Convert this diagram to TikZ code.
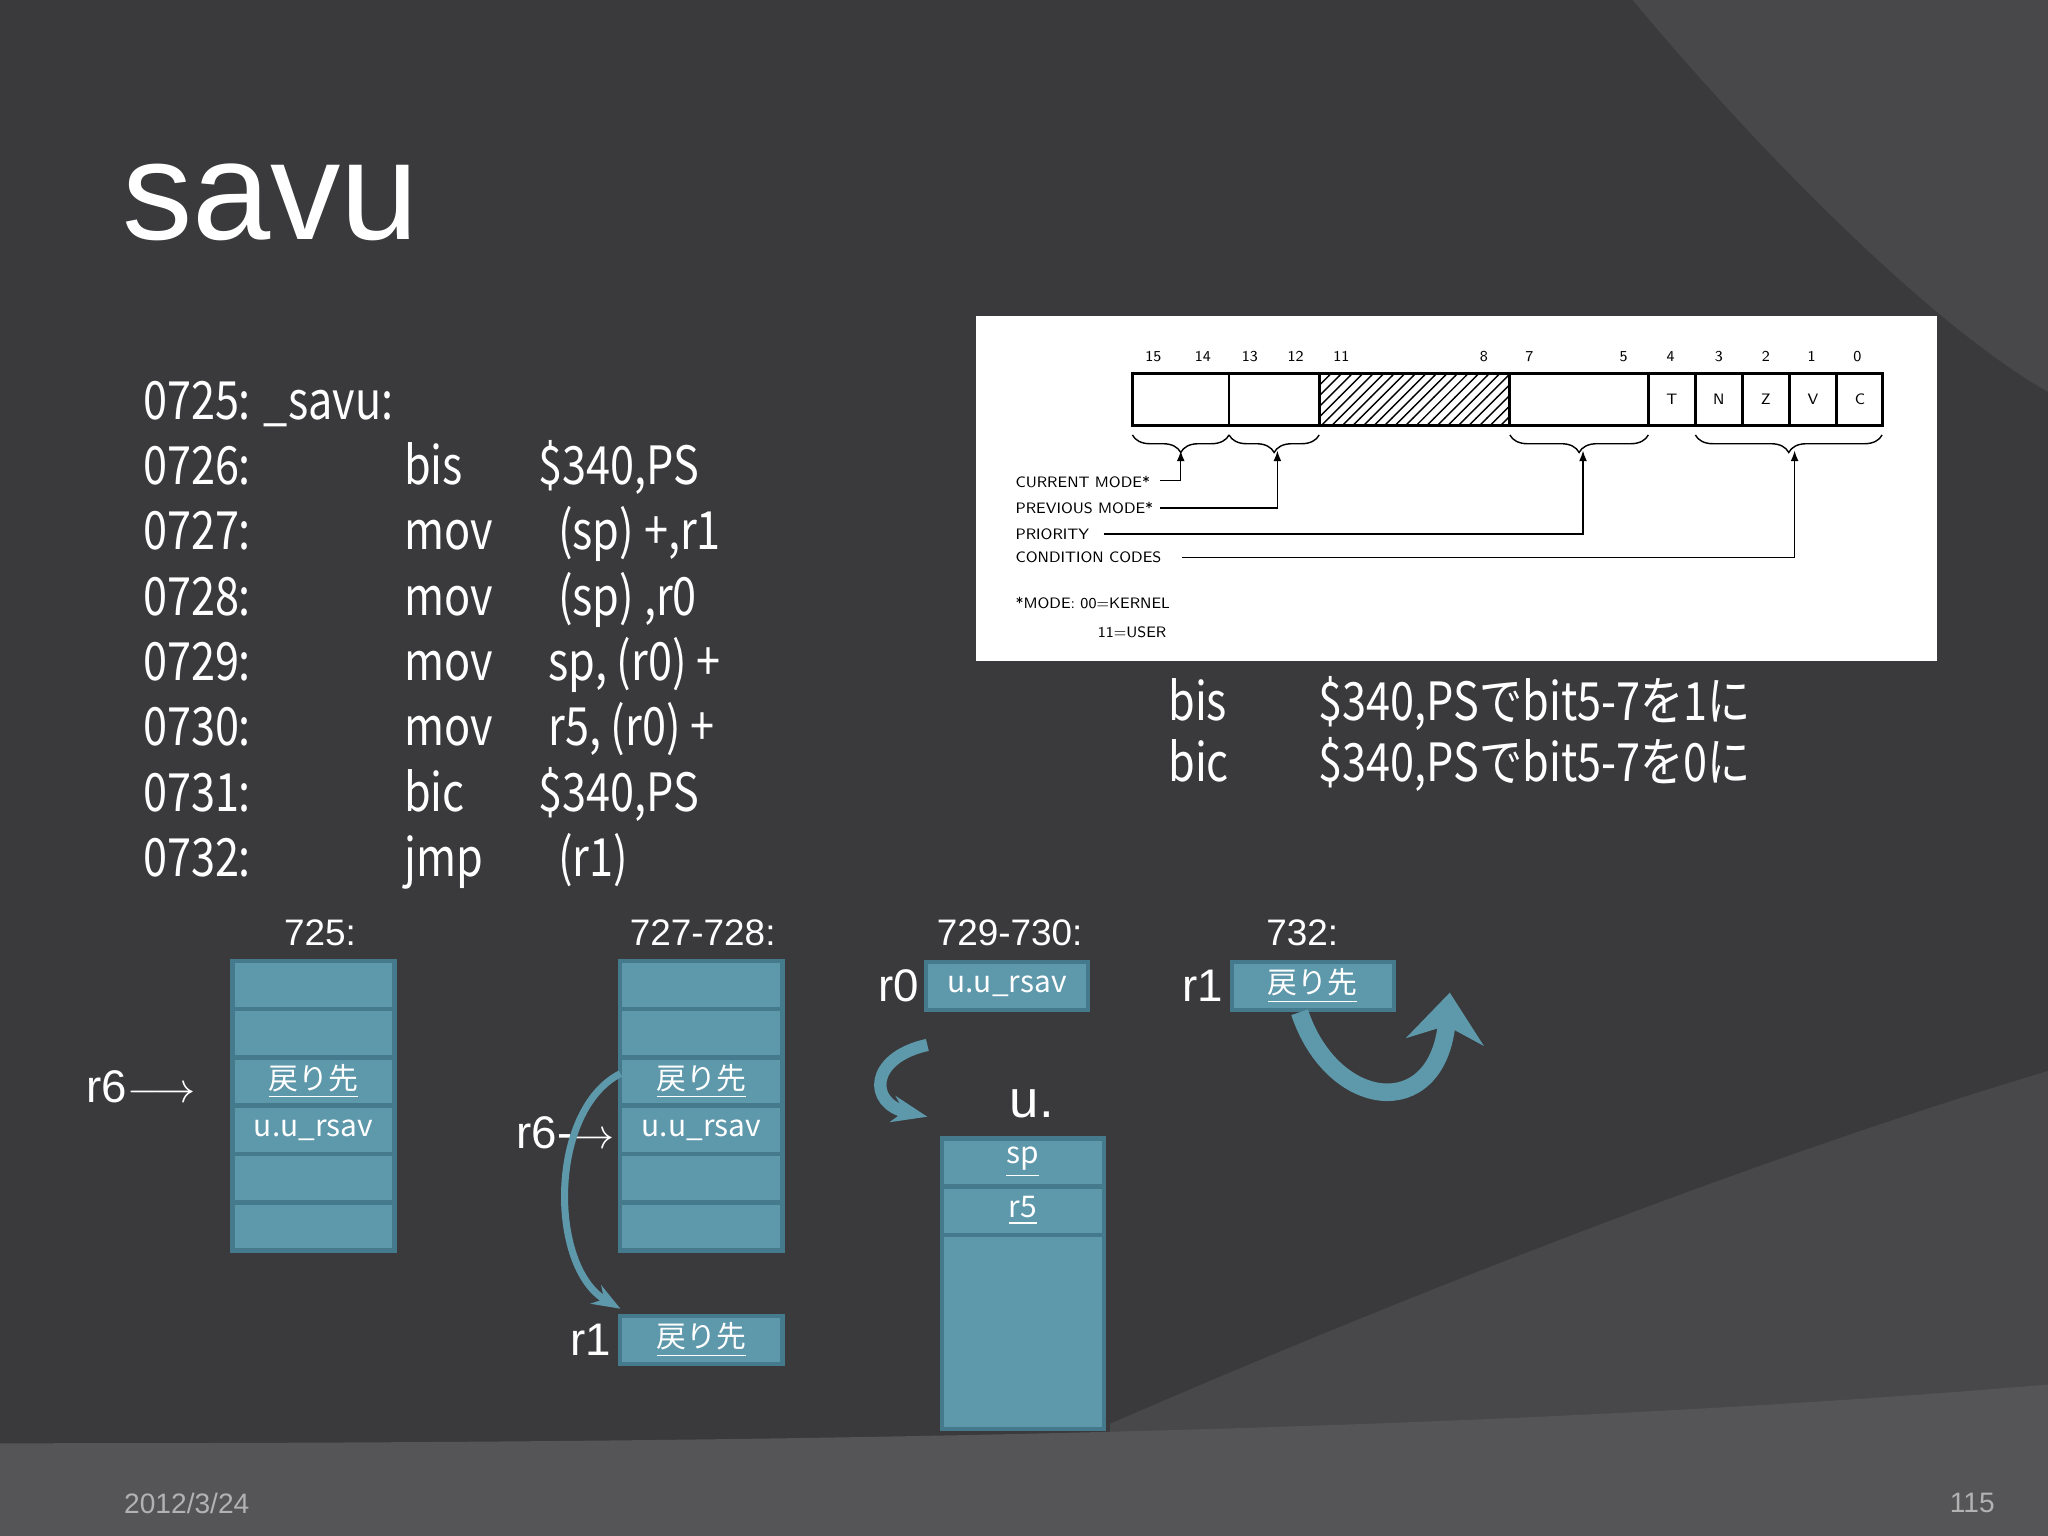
\documentclass[tikz,border=0pt]{standalone}
\usepackage{fontspec}
\setmainfont{Liberation Sans}
\newfontfamily\jp{Noto Sans CJK JP}
\newfontfamily\cond[FakeStretch=0.82]{Noto Sans CJK JP}
\usetikzlibrary{patterns,decorations.pathreplacing,arrows.meta}
\definecolor{bg}{HTML}{3A3A3C}
\definecolor{bg2}{HTML}{48484A}
\definecolor{bg3}{HTML}{555557}
\definecolor{cell}{HTML}{5E98AB}
\definecolor{cellb}{HTML}{457A8C}
\tikzset{
 cellbox/.style={draw=cellb,line width=1.2pt,fill=cell,minimum width=1.62cm,minimum height=0.48cm,inner sep=0pt,text=white,font=\jp\fontsize{8.5}{9}\selectfont},
 code/.style={anchor=base west,text=white,font=\cond\fontsize{15}{15}\selectfont},
 lbl/.style={text=white,font=\fontsize{10.5}{11}\selectfont},
 big/.style={text=white,font=\fontsize{13}{13}\selectfont},
 reg/.style={font=\fontsize{4.3}{5}\selectfont\sffamily,inner sep=0pt},
 teal/.style={draw=cell,line width=2.5pt},
}
\begin{document}
\begin{tikzpicture}[x=0.013061cm,y=-0.013061cm]
\fill[bg] (0,0) rectangle (1568,1176);
\useasboundingbox (0,0) rectangle (1568,1176);
\fill[bg2] (1250,0) .. controls (1350,120) and (1480,250) .. (1568,300) -- (1568,0) -- cycle;
\fill[bg2] (850,1090) .. controls (1150,960) and (1400,870) .. (1568,820) -- (1568,1176) -- (850,1176) -- cycle;
\fill[bg3] (0,1105) .. controls (500,1105) and (1100,1100) .. (1568,1060) -- (1568,1176) -- (0,1176) -- cycle;
\node[anchor=base west,text=white,font=\fontsize{40}{40}\selectfont] (title) at (84,183) {savu};
% code
\foreach \y/\a/\b/\c in {371/0726:/bis/{\$340,PS}, 421/0727:/mov/{\ \ (sp) +,r1}, 471/0728:/mov/{\ \ (sp) ,r0}, 521/0729:/mov/{\ sp, (r0) +}, 571/0730:/mov/{\ r5, (r0) +}, 621/0731:/bic/{\$340,PS}, 671/0732:/jmp/{\ \ (r1)}}{
 \node[code] at (100,\y) {\a};
 \node[code] at (300,\y) {\b};
 \node[code] at (403,\y) {\c};
}
\node[code] (c725) at (100,321) {0725: \_savu:};
\node[code] (bisl) at (885,552) {bis};
\node[code] (bisr) at (1000,552) {\$340,PSでbit5-7を1に};
\node[code] (bicl) at (885,598) {bic};
\node[code] (bicr) at (1000,598) {\$340,PSでbit5-7を0に};
% register figure
\fill[white] (747,242) rectangle (1483,506);
\draw[pattern=north east lines] (1010,286) rectangle (1156,326);
\draw[line width=0.8pt] (867,286) rectangle (1441,326);
\foreach \x in {941,1010,1156,1262,1298,1334,1370,1406} \draw[line width=0.8pt] (\x,286) -- (\x,326);
\foreach \x/\t in {883/15,921/14,957/13,992/12,1027/11,1136/8,1171/7,1243/5,1279/4,1316/3,1352/2,1387/1,1422/0} \node[reg] at (\x,273) {\t};
\foreach \x/\t in {1280/T,1316/N,1352/Z,1388/V,1424/C} \node[reg] at (\x,306) {\t};
\foreach \a/\b in {867/941,941/1010,1156/1262,1298/1441}
 \draw[decorate,decoration={brace,mirror,amplitude=5pt}] (\a,333) -- (\b,333);
\draw[-{Latex[length=3pt]}] (888,368) -- (904,368) -- (904,345);
\draw[-{Latex[length=3pt]}] (888,389) -- (978,389) -- (978,345);
\draw[-{Latex[length=3pt]}] (845,409) -- (1212,409) -- (1212,345);
\draw[-{Latex[length=3pt]}] (905,427) -- (1374,427) -- (1374,345);
\node[reg,anchor=west] at (777,369) {CURRENT MODE*};
\node[reg,anchor=west] at (777,389) {PREVIOUS MODE*};
\node[reg,anchor=west] at (777,409) {PRIORITY};
\node[reg,anchor=west] at (777,427) {CONDITION CODES};
\node[reg,anchor=west] at (777,462) {*MODE: 00=KERNEL};
\node[reg,anchor=west] at (840,484) {11=USER};
% labels
\node[lbl] (l1) at (245,714) {725:};
\node[lbl] (l2) at (538,714) {727-728:};
\node[lbl] (l3) at (773,714) {729-730:};
\node[lbl] (l4) at (997,714) {732:};
% stack 725
\foreach \i/\t in {0/,1/,2/\underline{戻り先},3/u.u\_rsav,4/,5/} \node[cellbox] (a\i) at (240,754+37*\i) {\t};
\node[big] (r6a) at (108,832) {r6$\longrightarrow$};
% stack 727
\foreach \i/\t in {0/,1/,2/\underline{戻り先},3/u.u\_rsav,4/,5/} \node[cellbox] (b\i) at (537,754+37*\i) {\t};
\node[big] (r6b) at (433,867) {r6-$\to$};
\node[cellbox] (br1) at (537,1026) {\underline{戻り先}};
\node[big] (r1b) at (452,1026) {r1};
\draw[teal,line width=2pt,-{Stealth[length=8pt]}] (475,822) .. controls (420,850) and (420,970) .. (475,1002);
% 729
\node[cellbox] (r0c) at (771,755) {u.u\_rsav};
\node[big] (r0l) at (688,755) {r0};
\node[big,font=\fontsize{15}{15}\selectfont] (ul) at (790,845) {u.};
\node[cellbox] (usp) at (783,890) {\underline{sp}};
\node[cellbox] (ur5) at (783,927) {\underline{r5}};
\node[cellbox,minimum height=1.94cm] (urest) at (783,1020) {};
\draw[teal,line width=3.5pt,-{Stealth[length=10pt]}] (710,800) .. controls (665,810) and (665,845) .. (710,855);
% 732
\node[cellbox] (r1d) at (1005,755) {\underline{戻り先}};
\node[big] (r1l) at (921,755) {r1};
\draw[teal,line width=5pt,-{Stealth[length=14pt,width=22pt]}] (995,775) .. controls (1020,850) and (1100,860) .. (1110,760);
% footer
\node[text=gray!60,font=\fontsize{8}{8}\selectfont] (date) at (143,1151) {2012/3/24};
\node[text=gray!60,font=\fontsize{8}{8}\selectfont] (pg) at (1510,1151) {115};
\end{tikzpicture}
\end{document}
